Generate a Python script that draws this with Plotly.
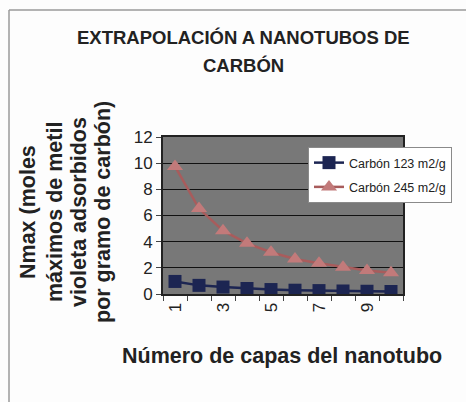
import plotly.graph_objects as go

capas = [1, 2, 3, 4, 5, 6, 7, 8, 9, 10]
carbon_123 = [0.96, 0.66, 0.53, 0.42, 0.34, 0.29, 0.26, 0.23, 0.21, 0.19]
carbon_245 = [9.75, 6.53, 4.84, 3.87, 3.19, 2.68, 2.35, 2.05, 1.8, 1.62]
tick_vals = [1, 3, 5, 7, 9]
tick_text = ["1", "3", "5", "7", "9"]
y_title_lines = ["Nmax (moles", "máximos de metil", "violeta adsorbidos", "por gramo de carbón)"]

W, H = 466, 402
L, R, T, B = 163, 63, 137, 108
pw, ph = W - L - R, H - T - B


def px2x(px):
    return (px - L) / pw


def px2y(py):
    return (H - B - py) / ph


FONT = "Liberation Sans, Arial, sans-serif"

fig = go.Figure()
fig.add_trace(go.Scatter(
    x=capas, y=carbon_123, mode="lines+markers", name="Carbón 123 m2/g",
    legendgroup="a",
    line=dict(color="#1c2552", width=2.5),
    marker=dict(symbol="square", size=13, color="#1c2552"),
))
fig.add_trace(go.Scatter(
    x=capas, y=carbon_245, mode="lines+markers", name="Carbón 245 m2/g",
    legendgroup="b",
    line=dict(color="#a85c5c", width=2.5),
    marker=dict(symbol="triangle-up", size=14, color="#c27a7a"),
))

annotations = [
    dict(text="<b>EXTRAPOLACIÓN A NANOTUBOS DE</b>", x=px2x(243), y=px2y(38),
         font=dict(size=18.5, color="#222")),
    dict(text="<b>CARBÓN</b>", x=px2x(243), y=px2y(65), font=dict(size=18.5, color="#222")),
    dict(text="<b>Número de capas del nanotubo</b>", x=px2x(282), y=px2y(356),
         font=dict(size=21.5, color="#222")),
]
for xc, line in zip([28, 55, 79, 103], y_title_lines):
    annotations.append(dict(text="<b>" + line + "</b>", x=px2x(xc), y=px2y(212), textangle=-90,
                            font=dict(size=21.5, color="#222")))
for a in annotations:
    a.update(xref="paper", yref="paper", showarrow=False, xanchor="center", yanchor="middle")

shapes = [
    dict(type="line", xref="paper", yref="paper", x0=px2x(9), x1=px2x(470), y0=px2y(10), y1=px2y(10),
         line=dict(color="#9a9a9a", width=1.5)),
    dict(type="line", xref="paper", yref="paper", x0=px2x(9), x1=px2x(9), y0=px2y(10), y1=px2y(410),
         line=dict(color="#9a9a9a", width=1.5)),
]

fig.update_layout(
    width=W, height=H, margin=dict(l=L, r=R, t=T, b=B, pad=0),
    paper_bgcolor="#fdfdfd", plot_bgcolor="#787878",
    font=dict(family=FONT, color="#222"),
    showlegend=True,
    legend=dict(x=px2x(308), y=px2y(147), xanchor="left", yanchor="top",
                bgcolor="#ffffff", bordercolor="#8a8a8a", borderwidth=1,
                font=dict(size=12.5, color="#222"), traceorder="grouped",
                tracegroupgap=5, itemwidth=30),
    annotations=annotations, shapes=shapes,
)
fig.update_xaxes(
    range=[0.5, 10.5], tickmode="array", tickvals=tick_vals, ticktext=tick_text,
    tickangle=-90, ticks="", tickfont=dict(size=17, color="#222"),
    showgrid=False, zeroline=False, showline=True, linecolor="#222", linewidth=2, mirror=True,
    minor=dict(tickvals=[i + 0.5 for i in range(0, 11)], ticks="outside", ticklen=5,
               tickcolor="#444", showgrid=False),
)
fig.update_yaxes(
    range=[0, 12], dtick=2, ticks="outside", ticklen=5, tickcolor="#444",
    tickfont=dict(size=17, color="#222"),
    showgrid=True, gridcolor="#111", gridwidth=1, zeroline=False,
    showline=True, linecolor="#222", linewidth=2, mirror=True,
)

fig.write_html("out.html", config={"displayModeBar": False},
               post_script="document.body.style.margin='0px';")
